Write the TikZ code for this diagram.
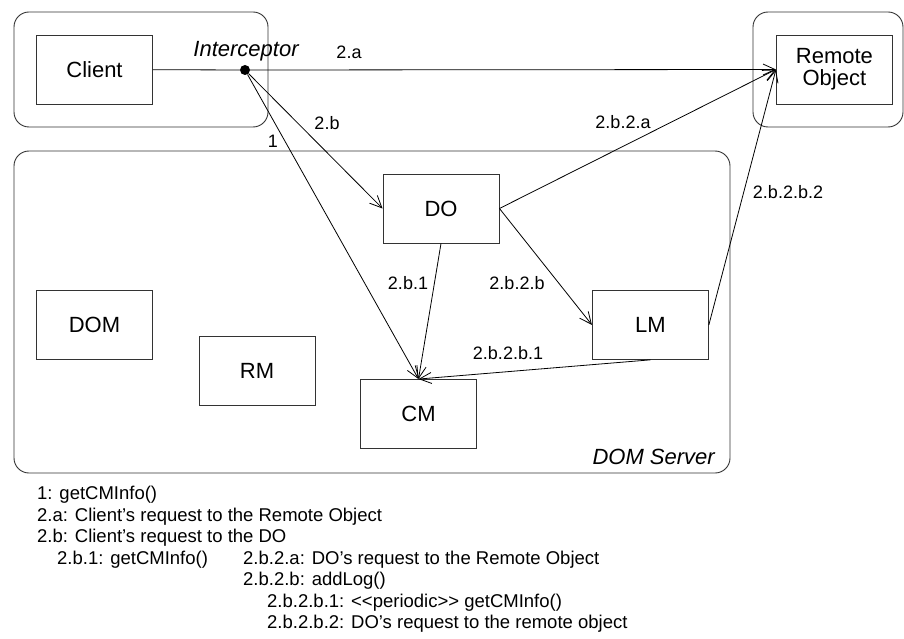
\documentclass[tikz,border=0pt]{standalone}
\usepackage{fontspec}
\setmainfont{Liberation Sans}
\usepackage{tikz}
\usetikzlibrary{
    arrows.meta,
    positioning
}
\tikzset{
  comp/.style    = {draw=black!80, line width=0.9pt, minimum width=116pt,
                    minimum height=69pt, align=center,
                    font=\fontsize{22}{22}\selectfont},
  frame/.style   = {draw=black!80, line width=0.9pt, rounded corners=15pt},
  msg/.style     = {-{Straight Barb[length=12pt,width=11pt]}, line width=0.8pt},
  lbl/.style     = {inner sep=0pt, font=\fontsize{18}{20}\selectfont},
  note/.style    = {inner sep=0pt, anchor=west, font=\fontsize{18.5}{21}\selectfont}
}

\begin{document}
\begin{tikzpicture}[
    x=1pt, y=-1pt,
    dot/.style={circle, fill, inner sep=0pt, minimum size=10pt},
    tag/.style={inner sep=0pt, font=\fontsize{22}{22}\selectfont\itshape}
]
\useasboundingbox (0,0) rectangle (904,639);

\node[frame, minimum width=254pt, minimum height=115pt] (clientbox) at (141,69.5) {};
\node[frame, minimum width=150pt, minimum height=115pt] (remotebox) at (828,69.5) {};
\node[frame, minimum width=716pt, minimum height=322pt] (server) at (372,312) {};

\node[comp] (client) at (94.5,69.5) {Client};
\node[comp, right=623pt of client] (remote) {Remote\\Object};
\node[comp, below=185.5pt of client] (dom) {DOM};
\node[comp, right=439pt of dom] (lm) {LM};
\node[comp] (do) at (441,208.5) {DO};
\node[comp] (rm) at (257,370.5) {RM};
\node[comp] (cm) at (418.5,414) {CM};

\node[dot] (icpt) at (245,70) {};
\node[tag] (icptlbl) at (246,51) {Interceptor};
\node[tag, anchor=east] (serverlbl) at (715,457) {DOM Server};

\draw[line width=0.8pt] (client) -- (icpt);
\draw[msg] (icpt) -- (remote.west);
\draw[msg] (icpt) -- (do.west);
\draw[msg] (icpt) -- (cm.north);
\draw[msg] (do.east) -- (remote.west);
\draw[msg] (do.south) -- (cm.north);
\draw[msg] (do.east) -- (lm.west);
\draw[msg] (lm.south) -- (cm.north);
\draw[msg] (lm.east) -- (remote.west);

\node[lbl] (m2a) at (349,52) {2.a};
\node[lbl] (m2b) at (327,123) {2.b};
\node[lbl] (m1) at (273,141) {1};
\node[lbl] (m2b2a) at (623,122) {2.b.2.a};
\node[lbl] (m2b1) at (408,283) {2.b.1};
\node[lbl] (m2b2b) at (517,283) {2.b.2.b};
\node[lbl] (m2b2b1) at (508,353) {2.b.2.b.1};
\node[lbl] (m2b2b2) at (788,192) {2.b.2.b.2};

\node[note] (n1) at (37,495) {1: getCMInfo()};
\node[note] (n2a) at (37,516.5) {2.a: Client’s request to the Remote Object};
\node[note] (n2b) at (37,538) {2.b: Client’s request to the DO};
\node[note] (n2b1) at (57,559.5) {2.b.1: getCMInfo()};
\node[note] (n2b2a) at (243,559.5) {2.b.2.a: DO’s request to the Remote Object};
\node[note] (n2b2b) at (243,581) {2.b.2.b: addLog()};
\node[note] (n2b2b1) at (267,602.5) {2.b.2.b.1: <{}<periodic>{}> getCMInfo()};
\node[note] (n2b2b2) at (267,624) {2.b.2.b.2: DO’s request to the remote object};
\end{tikzpicture}
\end{document}
